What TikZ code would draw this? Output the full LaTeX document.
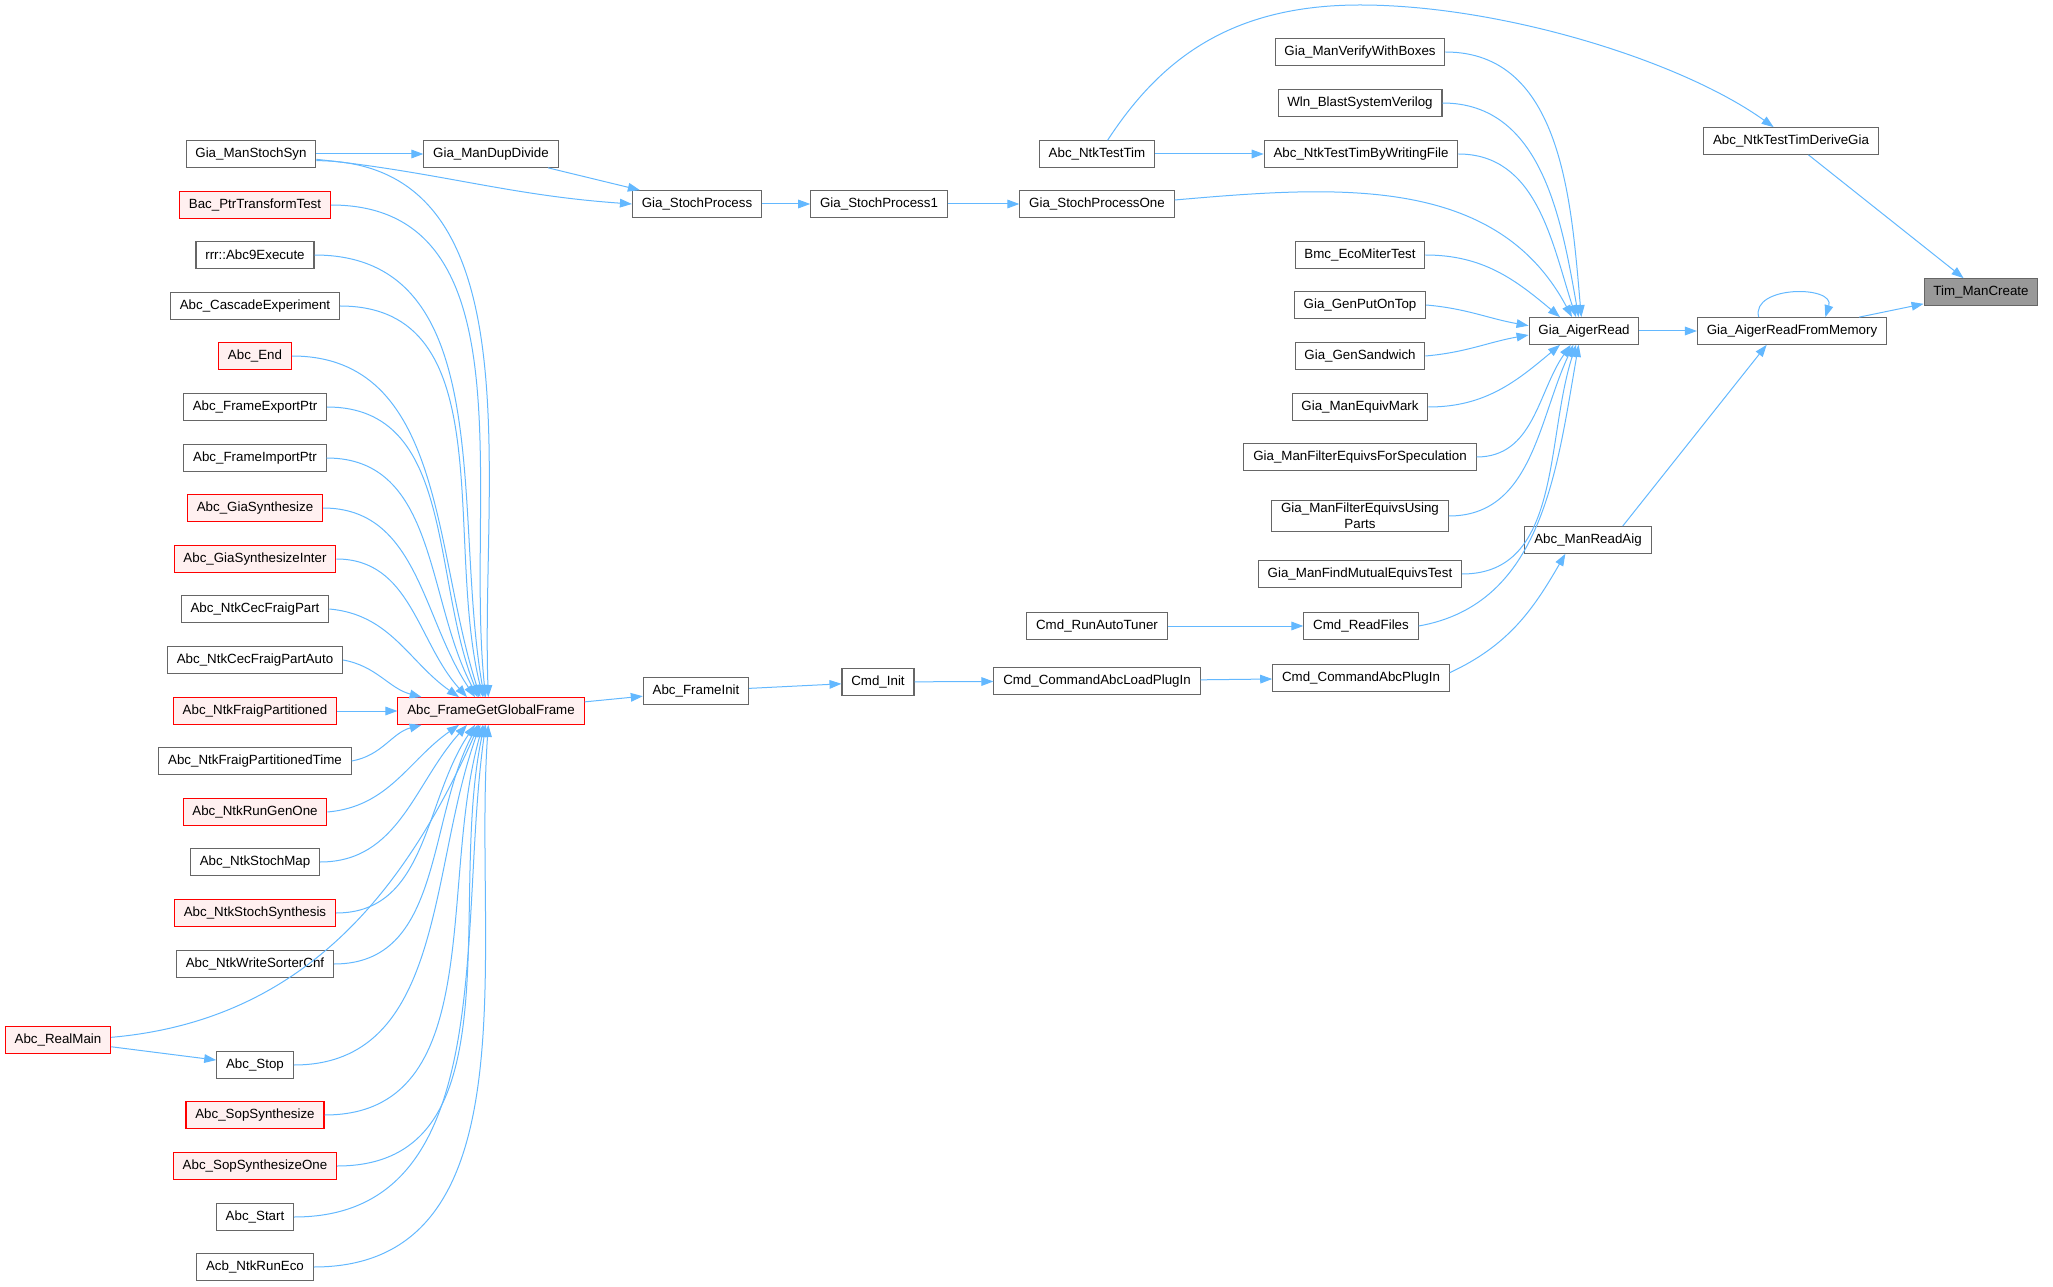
\documentclass[tikz,border=0pt]{standalone}
\usepackage{fontspec}
\setmainfont{Liberation Sans}
\usepackage{tikz}
\usetikzlibrary{arrows.meta,positioning}
\definecolor{edgeblue}{HTML}{63B8FF}
\definecolor{boxgray}{HTML}{666666}
\definecolor{boxred}{HTML}{FF0000}
\definecolor{redfill}{HTML}{FFF0F0}
\definecolor{curfill}{HTML}{999999}

\begin{document}
\begin{tikzpicture}[x=0.75pt,y=0.75pt,
    fn/.style={draw=boxgray,fill=white,line width=0.8pt,minimum height=20pt,inner xsep=7pt,inner ysep=2pt,font=\fontsize{10}{12}\selectfont},
    fnred/.style={fn,draw=boxred,fill=redfill},
    fncur/.style={fn,fill=curfill},
    call/.style={draw=edgeblue,line width=0.75pt,-{Triangle[length=9pt,width=6.5pt]}}]
    \useasboundingbox (0,0) rectangle (2053,-1287);

    \node[fn] (gmss) at (251,-154) {Gia\_ManStochSyn};
    \node[fnred] (bac) at (255,-205) {Bac\_PtrTransformTest};
    \node[fn] (rrr) at (255,-255) {rrr::Abc9Execute};
    \node[fn] (cas) at (255,-306) {Abc\_CascadeExperiment};
    \node[fnred] (aend) at (255,-356) {Abc\_End};
    \node[fn] (fexp) at (255,-407) {Abc\_FrameExportPtr};
    \node[fn] (fimp) at (255,-458) {Abc\_FrameImportPtr};
    \node[fnred] (gsyn) at (255,-508) {Abc\_GiaSynthesize};
    \node[fnred] (gsyni) at (255,-559) {Abc\_GiaSynthesizeInter};
    \node[fn] (cfp) at (255,-609) {Abc\_NtkCecFraigPart};
    \node[fn] (cfpa) at (255,-660) {Abc\_NtkCecFraigPartAuto};
    \node[fnred] (nfp) at (255,-711) {Abc\_NtkFraigPartitioned};
    \node[fn] (nfpt) at (255,-761) {Abc\_NtkFraigPartitionedTime};
    \node[fnred] (rgo) at (255,-812) {Abc\_NtkRunGenOne};
    \node[fn] (nsm) at (255,-862) {Abc\_NtkStochMap};
    \node[fnred] (nss) at (255,-913) {Abc\_NtkStochSynthesis};
    \node[fn] (wsc) at (255,-964) {Abc\_NtkWriteSorterCnf};
    \node[fnred] (rmain) at (58,-1040) {Abc\_RealMain};
    \node[fn] (astop) at (255,-1065) {Abc\_Stop};
    \node[fnred] (sop) at (255,-1115) {Abc\_SopSynthesize};
    \node[fnred] (sopo) at (255,-1166) {Abc\_SopSynthesizeOne};
    \node[fn] (astart) at (255,-1217) {Abc\_Start};
    \node[fn] (acb) at (255,-1267) {Acb\_NtkRunEco};

    \node[fnred] (ggf) at (491,-711) {Abc\_FrameGetGlobalFrame};
    \node[fn] (gmdd) at (491,-154) {Gia\_ManDupDivide};
    \node[fn] (gsp) at (697,-204) {Gia\_StochProcess};
    \node[fn] (gsp1) at (879,-204) {Gia\_StochProcess1};
    \node[fn] (gspo) at (1097,-204) {Gia\_StochProcessOne};
    \node[fn] (ntt) at (1097,-154) {Abc\_NtkTestTim};
    \node[fn] (finit) at (696,-691) {Abc\_FrameInit};
    \node[fn] (cinit) at (878,-682) {Cmd\_Init};
    \node[fn] (clp) at (1097,-681) {Cmd\_CommandAbcLoadPlugIn};
    \node[fn] (cap) at (1361,-678) {Cmd\_CommandAbcPlugIn};
    \node[fn] (rat) at (1097,-626) {Cmd\_RunAutoTuner};
    \node[fn] (crf) at (1361,-626) {Cmd\_ReadFiles};

    \node[fn] (vwb) at (1360,-52) {Gia\_ManVerifyWithBoxes};
    \node[fn] (wln) at (1360,-103) {Wln\_BlastSystemVerilog};
    \node[fn] (ttw) at (1361,-154) {Abc\_NtkTestTimByWritingFile};
    \node[fn] (bmc) at (1360,-255) {Bmc\_EcoMiterTest};
    \node[fn] (gpot) at (1360,-305) {Gia\_GenPutOnTop};
    \node[fn] (gsw) at (1360,-356) {Gia\_GenSandwich};
    \node[fn] (gem) at (1360,-407) {Gia\_ManEquivMark};
    \node[fn] (fes) at (1360,-457) {Gia\_ManFilterEquivsForSpeculation};
    \node[fn,align=center] (feup) at (1360,-516) {Gia\_ManFilterEquivsUsing\\Parts};
    \node[fn] (fmet) at (1360,-574) {Gia\_ManFindMutualEquivsTest};

    \node[fn] (gar) at (1584,-331) {Gia\_AigerRead};
    \node[fn] (garm) at (1792,-331) {Gia\_AigerReadFromMemory};
    \node[fn] (nttdg) at (1791,-141) {Abc\_NtkTestTimDeriveGia};
    \node[fn] (mra) at (1588,-540) {Abc\_ManReadAig};
    \node[fncur] (tim) at (1981,-292) {Tim\_ManCreate};

    \draw[call] (gmss) -- (gmdd);
    \draw[call] ([yshift=-4pt]gmss.east) to[out=-6,in=176] (gsp.west);
    \draw[call] (gmdd) -- (gsp);
    \draw[call] (gsp) -- (gsp1);
    \draw[call] (gsp1) -- (gspo);
    \draw[call] (ntt) -- (ttw);
    \draw[call] ([xshift=8pt]ntt.north) .. controls (1160,-60) and (1230,-5) .. (1360,-5)
        .. controls (1500,-5) and (1680,-60) .. ([xshift=-13pt]nttdg.north);

    \draw[call] ([yshift=-5pt]gmss.east) to[out=0,in=92] ([xshift=-2pt]ggf.north);
    \draw[call] (bac.east) to[out=0,in=96] ([xshift=-4pt]ggf.north);
    \draw[call] (rrr.east) to[out=0,in=100] ([xshift=-5pt]ggf.north);
    \draw[call] (cas.east) to[out=0,in=104] ([xshift=-6pt]ggf.north);
    \draw[call] (aend.east) to[out=0,in=108] ([xshift=-8pt]ggf.north);
    \draw[call] (fexp.east) to[out=0,in=112] ([xshift=-9pt]ggf.north);
    \draw[call] (fimp.east) to[out=0,in=118] ([xshift=-10pt]ggf.north);
    \draw[call] (gsyn.east) to[out=0,in=124] ([xshift=-12pt]ggf.north);
    \draw[call] (gsyni.east) to[out=0,in=132] ([xshift=-18pt]ggf.north);
    \draw[call] (cfp.east) to[out=-5,in=145] ([xshift=-24pt]ggf.north);
    \draw[call] (cfpa.east) to[out=-10,in=165] ([xshift=-52pt]ggf.north);
    \draw[call] (nfp) -- (ggf);
    \draw[call] (nfpt.east) to[out=10,in=195] ([xshift=-52pt]ggf.south);
    \draw[call] (rgo.east) to[out=5,in=215] ([xshift=-24pt]ggf.south);
    \draw[call] (nsm.east) to[out=0,in=228] ([xshift=-18pt]ggf.south);
    \draw[call] (nss.east) to[out=0,in=236] ([xshift=-12pt]ggf.south);
    \draw[call] (wsc.east) to[out=0,in=242] ([xshift=-10pt]ggf.south);
    \draw[call] ([yshift=2pt]rmain.east) to[out=5,in=246] ([xshift=-9pt]ggf.south);
    \draw[call] (rmain) -- (astop);
    \draw[call] (astop.east) to[out=0,in=250] ([xshift=-8pt]ggf.south);
    \draw[call] (sop.east) to[out=0,in=254] ([xshift=-6pt]ggf.south);
    \draw[call] (sopo.east) to[out=0,in=258] ([xshift=-5pt]ggf.south);
    \draw[call] (astart.east) to[out=0,in=262] ([xshift=-4pt]ggf.south);
    \draw[call] (acb.east) to[out=0,in=266] ([xshift=-2pt]ggf.south);

    \draw[call] (ggf) -- (finit);
    \draw[call] (finit) -- (cinit);
    \draw[call] (cinit) -- (clp);
    \draw[call] (clp) -- (cap);
    \draw[call] (rat) -- (crf);

    \draw[call] (vwb.east) to[out=0,in=95] ([xshift=-2pt]gar.north);
    \draw[call] (wln.east) to[out=0,in=100] ([xshift=-4pt]gar.north);
    \draw[call] (ttw.east) to[out=0,in=108] ([xshift=-6pt]gar.north);
    \draw[call] ([yshift=3pt]gspo.east) to[out=5,in=118] ([xshift=-9pt]gar.north);
    \draw[call] (bmc.east) to[out=0,in=140] ([xshift=-18pt]gar.north);
    \draw[call] (gpot.east) to[out=-5,in=170] ([yshift=4pt]gar.west);
    \draw[call] (gsw.east) to[out=5,in=190] ([yshift=-3pt]gar.west);
    \draw[call] (gem.east) to[out=0,in=220] ([xshift=-18pt]gar.south);
    \draw[call] (fes.east) to[out=0,in=235] ([xshift=-10pt]gar.south);
    \draw[call] (feup.east) to[out=0,in=245] ([xshift=-8pt]gar.south);
    \draw[call] (fmet.east) to[out=0,in=252] ([xshift=-6pt]gar.south);
    \draw[call] (crf.east) to[out=10,in=260] ([xshift=-4pt]gar.south);

    \draw[call] (gar) -- (garm);
    \draw[call] ([xshift=-25pt]garm.north) .. controls +(-8,32) and +(10,32) .. ([xshift=25pt]garm.north);
    \draw[call] (garm) -- (tim);
    \draw[call] (nttdg) -- (tim);
    \draw[call] ([xshift=26pt]mra.north) -- ([xshift=-19pt]garm.south);
    \draw[call] ([yshift=4pt]cap.east) to[out=25,in=240] ([xshift=-17pt]mra.south);
\end{tikzpicture}
\end{document}
